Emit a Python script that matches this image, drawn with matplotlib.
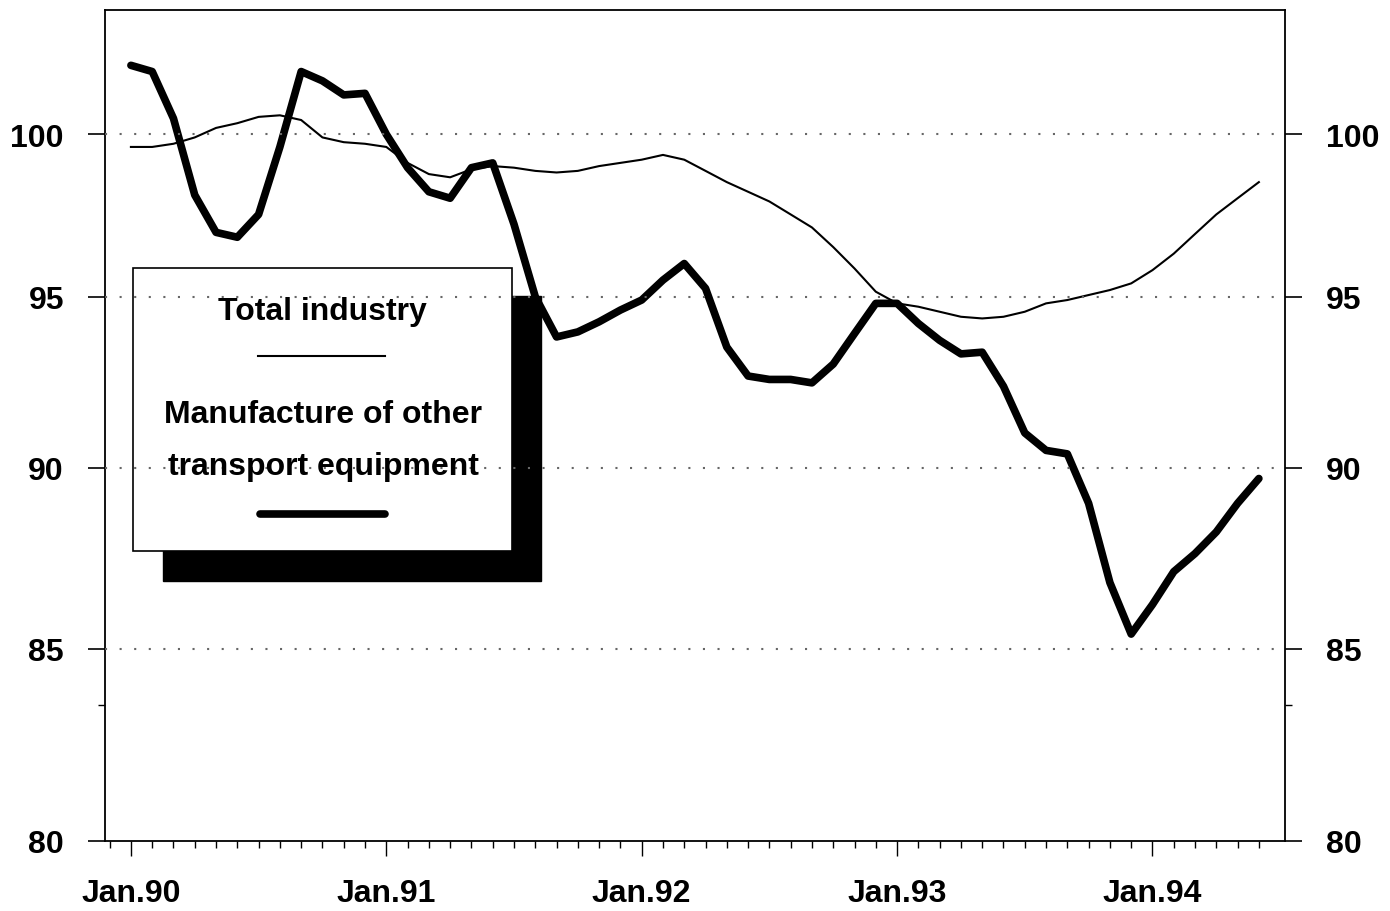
import numpy as np
import matplotlib
matplotlib.use('Agg')
import matplotlib.pyplot as plt
from matplotlib.patches import Rectangle
from matplotlib.lines import Line2D
from matplotlib.ticker import FixedLocator, NullFormatter

plt.rcParams['font.family'] = ['Liberation Sans', 'DejaVu Sans']

# monthly index, Jan.90 = 0 ... Jun.94 = 53
months = np.arange(54)
year_ticks = [0, 12, 24, 36, 48]
year_labels = ['Jan.90', 'Jan.91', 'Jan.92', 'Jan.93', 'Jan.94']
y_ticks = [80, 85, 90, 95, 100]
series_names = ['Total industry', 'Manufacture of other\ntransport equipment']

total_industry = [
    99.6, 99.6, 99.7, 99.9, 100.2, 100.35, 100.55, 100.6, 100.45, 99.9,
    99.75, 99.7, 99.6, 99.1, 98.75, 98.65, 98.9, 99.0, 98.95, 98.85,
    98.8, 98.85, 99.0, 99.1, 99.2, 99.35, 99.2, 98.85, 98.5, 98.2,
    97.9, 97.5, 97.1, 96.5, 95.85, 95.15, 94.8, 94.7, 94.55, 94.4,
    94.35, 94.4, 94.55, 94.8, 94.9, 95.05, 95.2, 95.4, 95.8, 96.3,
    96.9, 97.5, 98.0, 98.5,
]

other_transport = [
    102.2, 102.0, 100.5, 98.1, 96.95, 96.8, 97.5, 99.6, 102.0, 101.7,
    101.25, 101.3, 100.0, 98.95, 98.2, 98.0, 98.95, 99.1, 97.2, 95.0,
    93.8, 93.95, 94.25, 94.6, 94.9, 95.5, 96.0, 95.25, 93.5, 92.65,
    92.55, 92.55, 92.45, 93.0, 93.9, 94.8, 94.8, 94.2, 93.7, 93.3,
    93.35, 92.35, 91.0, 90.5, 90.4, 89.0, 86.8, 85.4, 86.2, 87.1,
    87.6, 88.2, 89.0, 89.7,
]

fig = plt.figure(figsize=(13.9, 9.12), dpi=100)
ax = fig.add_axes([0.0755, 0.0768, 0.849, 0.9111])

ax.plot(months, total_industry, color='black', lw=1.5, zorder=2)
ax.plot(months, other_transport, color='black', lw=5.5, zorder=2,
        solid_joinstyle='round', solid_capstyle='round')

ax.set_yscale('log')
ax.set_ylim(80, 104)
ax.set_xlim(-1.22, 54.23)

for v in y_ticks[1:]:
    ax.axhline(v, color='#666666', lw=1.5, ls=(0, (1, 6)), zorder=2.6)

ax.set_yticks(y_ticks)
ax.set_yticklabels([str(v) for v in y_ticks], fontweight='bold')
ax.yaxis.set_minor_locator(FixedLocator([83.5]))
ax.yaxis.set_minor_formatter(NullFormatter())
ax.set_xticks(year_ticks)
ax.set_xticklabels(year_labels, fontweight='bold')
ax.xaxis.set_minor_locator(FixedLocator(np.arange(-1, 54)))

ax.tick_params(axis='y', which='major', direction='out', length=12.5, width=1.2,
               left=True, right=True, labelleft=True, labelright=True,
               labelsize=23, pad=17)
ax.tick_params(axis='y', which='minor', direction='out', length=5, width=1,
               left=True, right=True)
ax.tick_params(axis='x', which='major', direction='out', length=11, width=1,
               labelsize=23, pad=16)
ax.tick_params(axis='x', which='minor', direction='out', length=5, width=1)

for s in ax.spines.values():
    s.set_linewidth(1.3)

# legend box with shadow
ax.add_patch(Rectangle((0.1173, 0.3618), 0.2719, 0.3125, transform=fig.transFigure,
                       facecolor='black', edgecolor='black', clip_on=False, zorder=2.2))
ax.add_patch(Rectangle((0.0957, 0.3947), 0.2727, 0.3103, transform=fig.transFigure,
                       facecolor='white', edgecolor='black', lw=1.2, clip_on=False, zorder=2.3))

name_lines = series_names[1].split('\n')
fig.text(0.2317, 0.6491, series_names[0], ha='center', va='baseline',
         fontsize=23, fontweight='bold', zorder=5)
fig.add_artist(Line2D([0.1856, 0.2770], [0.6086, 0.6086], color='black', lw=1.5, zorder=5))
fig.text(0.2327, 0.5362, name_lines[0], ha='center', va='baseline',
         fontsize=23, fontweight='bold', zorder=5)
fig.text(0.2324, 0.4792, name_lines[1], ha='center', va='baseline',
         fontsize=23, fontweight='bold', zorder=5)
fig.add_artist(Line2D([0.1870, 0.2770], [0.4353, 0.4353], color='black', lw=5.5,
                      solid_capstyle='round', zorder=5))

fig.savefig('out.png', dpi=100, facecolor='white')
